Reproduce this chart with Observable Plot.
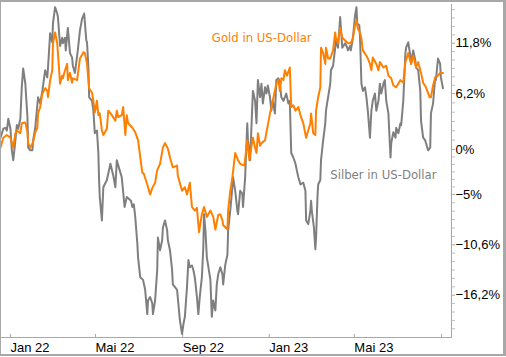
<!DOCTYPE html>
<html><head><meta charset="utf-8">
<script src="https://cdn.jsdelivr.net/npm/d3@7"></script>
<script src="https://cdn.jsdelivr.net/npm/@observablehq/plot@0.6"></script>
<style>
html,body{margin:0;padding:0;background:#fff;}
#wrap{position:relative;width:506px;height:357px;overflow:hidden;}
#border{position:absolute;left:0;top:0;width:506px;height:356px;box-sizing:border-box;border-style:solid;border-color:#a8a8a8;border-width:2px 3px 2px 1px;pointer-events:none;}
</style></head><body>
<div id="wrap"><div id="chart"></div><div id="border"></div></div>
<script>
// Gold in US-Dollar (performance in %)
const goldDates = [
"2021-12-18","2021-12-22","2021-12-27","2022-01-01","2022-01-05","2022-01-08","2022-01-10","2022-01-15","2022-01-17","2022-01-22","2022-01-25","2022-01-26","2022-01-29",
"2022-02-02","2022-02-05","2022-02-08","2022-02-09","2022-02-12","2022-02-15","2022-02-19","2022-02-22","2022-02-23","2022-02-26",
"2022-03-01","2022-03-02","2022-03-05","2022-03-08","2022-03-09","2022-03-12","2022-03-15","2022-03-16","2022-03-19","2022-03-22","2022-03-23","2022-03-26","2022-03-29","2022-03-30",
"2022-04-05","2022-04-09","2022-04-14","2022-04-16","2022-04-19","2022-04-22","2022-04-26","2022-04-28","2022-04-30",
"2022-05-03","2022-05-05","2022-05-07","2022-05-10","2022-05-12","2022-05-17","2022-05-19","2022-05-24","2022-05-29","2022-05-31",
"2022-06-02","2022-06-07","2022-06-09","2022-06-12","2022-06-14","2022-06-16","2022-06-22","2022-06-26","2022-06-30",
"2022-07-06","2022-07-08","2022-07-13","2022-07-17","2022-07-20","2022-07-24","2022-07-27","2022-07-31",
"2022-08-04","2022-08-07","2022-08-11","2022-08-14","2022-08-18","2022-08-24","2022-08-25","2022-08-31",
"2022-09-04","2022-09-07","2022-09-11","2022-09-14","2022-09-18","2022-09-21","2022-09-24","2022-09-28",
"2022-10-01","2022-10-05","2022-10-10","2022-10-14","2022-10-17","2022-10-21","2022-10-24","2022-10-27","2022-10-28",
"2022-11-03","2022-11-04","2022-11-07","2022-11-10","2022-11-14","2022-11-18","2022-11-21","2022-11-27",
"2022-12-01","2022-12-04","2022-12-06","2022-12-09","2022-12-12","2022-12-14","2022-12-16","2022-12-19","2022-12-21","2022-12-26","2022-12-28","2022-12-30",
"2023-01-02","2023-01-04","2023-01-06","2023-01-11","2023-01-14","2023-01-16","2023-01-18","2023-01-21","2023-01-23","2023-01-26","2023-01-30",
"2023-02-01","2023-02-04","2023-02-07","2023-02-11","2023-02-14","2023-02-18","2023-02-22","2023-02-28",
"2023-03-01","2023-03-04","2023-03-07","2023-03-08","2023-03-11","2023-03-14","2023-03-15","2023-03-18","2023-03-21","2023-03-22","2023-03-25","2023-03-28",
"2023-04-01","2023-04-04","2023-04-05","2023-04-08","2023-04-11","2023-04-14","2023-04-18","2023-04-22","2023-04-26","2023-04-29",
"2023-05-02","2023-05-04","2023-05-06","2023-05-09","2023-05-11","2023-05-13","2023-05-18","2023-05-20","2023-05-23","2023-05-25","2023-05-27",
"2023-06-01","2023-06-04","2023-06-06","2023-06-11","2023-06-15","2023-06-18","2023-06-22","2023-06-25","2023-06-29",
"2023-07-05","2023-07-09","2023-07-12","2023-07-16","2023-07-20","2023-07-23","2023-07-27","2023-07-30",
"2023-08-03","2023-08-06","2023-08-10","2023-08-15","2023-08-17","2023-08-20","2023-08-23","2023-08-27","2023-08-30","2023-09-03"
];
const goldValues = [
0.2,1.3,1.6,1.3,0.2,1.8,2.1,1.8,2.9,3.0,1.9,0.7,0.2,
0.8,1.9,2.4,4.0,4.7,6.2,6.8,6.5,5.8,7.7,
8.8,11.8,13.0,11.8,10.7,7.3,8.2,7.9,8.8,9.5,7.7,8.5,7.4,7.9,
7.7,10.1,10.8,10.7,9.5,6.8,6.3,5.4,4.1,
5.4,3.8,4.0,2.1,1.6,2.3,4.3,3.8,3.2,4.3,
3.6,3.8,4.7,1.6,3.8,2.9,2.4,1.9,1.0,
-2.6,-2.7,-3.9,-5.0,-4.3,-3.7,-2.3,-1.6,
0.2,0.7,0.1,-0.9,-2.0,-1.8,-2.9,-4.6,
-4.2,-5.0,-3.7,-6.4,-6.8,-6.5,-9.2,-7.2,
-6.4,-7.5,-6.8,-7.5,-8.9,-7.3,-7.2,-7.9,-8.4,
-8.9,-6.8,-4.6,-3.1,-0.4,-1.2,-1.6,-1.8,
1.0,-1.2,-0.1,1.3,0.2,-0.4,1.8,0.4,0.7,1.0,1.9,2.7,
4.0,4.7,5.4,7.3,7.7,6.5,7.9,7.7,8.8,8.2,9.1,
4.7,4.9,4.3,4.7,3.8,2.9,1.3,2.9,
4.0,1.8,1.6,4.3,5.8,6.9,11.3,10.7,9.5,11.3,10.1,10.1,
11.0,13.0,12.4,11.8,13.5,12.4,12.1,11.8,11.8,12.4,
13.8,14.3,13.4,13.0,12.3,11.0,10.4,10.1,9.5,8.8,10.2,
9.5,8.8,9.7,9.1,9.3,8.2,7.9,7.1,6.9,
7.7,7.4,9.7,10.7,9.5,10.4,9.1,9.7,
8.5,7.4,6.9,5.8,5.8,7.1,8.0,8.2,8.5,8.5
];

// Silber in US-Dollar (performance in %)
const silverDates = [
"2021-12-18","2021-12-22","2021-12-25","2021-12-27","2021-12-29",
"2022-01-01","2022-01-03","2022-01-05","2022-01-08","2022-01-10","2022-01-12","2022-01-15","2022-01-17","2022-01-19","2022-01-22","2022-01-25","2022-01-26","2022-01-29",
"2022-02-01","2022-02-02","2022-02-05","2022-02-09","2022-02-12","2022-02-15","2022-02-19","2022-02-22","2022-02-23","2022-02-26",
"2022-03-01","2022-03-02","2022-03-05","2022-03-08","2022-03-09","2022-03-12","2022-03-15","2022-03-16","2022-03-19","2022-03-20","2022-03-23","2022-03-26","2022-03-29","2022-03-30",
"2022-04-02","2022-04-06","2022-04-09","2022-04-12","2022-04-15","2022-04-18","2022-04-19","2022-04-21","2022-04-22","2022-04-26","2022-04-28","2022-04-30",
"2022-05-03","2022-05-05","2022-05-06","2022-05-07","2022-05-10","2022-05-12","2022-05-17","2022-05-22","2022-05-26","2022-05-29","2022-05-31",
"2022-06-04","2022-06-07","2022-06-11","2022-06-14","2022-06-20","2022-06-22","2022-06-24","2022-06-26","2022-06-29","2022-06-30",
"2022-07-03","2022-07-07","2022-07-10","2022-07-13","2022-07-14","2022-07-17","2022-07-20","2022-07-21","2022-07-24","2022-07-27","2022-07-28","2022-07-31",
"2022-08-03","2022-08-04","2022-08-07","2022-08-10","2022-08-11","2022-08-14","2022-08-17","2022-08-18","2022-08-24","2022-08-28","2022-08-31",
"2022-09-02","2022-09-04","2022-09-07","2022-09-09","2022-09-11","2022-09-14","2022-09-16","2022-09-18","2022-09-21","2022-09-23","2022-09-25","2022-09-28","2022-09-30",
"2022-10-01","2022-10-03","2022-10-05","2022-10-10","2022-10-12","2022-10-14","2022-10-17","2022-10-19","2022-10-21","2022-10-24","2022-10-27","2022-10-28","2022-10-31",
"2022-11-03","2022-11-04","2022-11-07","2022-11-10","2022-11-11","2022-11-14","2022-11-17","2022-11-18","2022-11-21","2022-11-24","2022-11-25","2022-11-28",
"2022-12-01","2022-12-02","2022-12-05","2022-12-08","2022-12-09","2022-12-12","2022-12-14","2022-12-16","2022-12-19","2022-12-21","2022-12-23","2022-12-26","2022-12-28","2022-12-30",
"2023-01-02","2023-01-04","2023-01-06","2023-01-09","2023-01-11","2023-01-14","2023-01-16","2023-01-18","2023-01-21","2023-01-25","2023-01-28","2023-01-30",
"2023-02-01","2023-02-04","2023-02-07","2023-02-08","2023-02-11","2023-02-14","2023-02-18","2023-02-21","2023-02-22","2023-02-25","2023-02-28",
"2023-03-01","2023-03-02","2023-03-05","2023-03-07","2023-03-08","2023-03-10","2023-03-11","2023-03-14","2023-03-15","2023-03-18","2023-03-21","2023-03-22","2023-03-28","2023-03-29",
"2023-04-01","2023-04-04","2023-04-05","2023-04-08","2023-04-11","2023-04-14","2023-04-18","2023-04-21","2023-04-22","2023-04-25","2023-04-26","2023-04-29",
"2023-05-02","2023-05-04","2023-05-05","2023-05-08","2023-05-09","2023-05-11","2023-05-13","2023-05-16","2023-05-18","2023-05-20","2023-05-23","2023-05-25","2023-05-27","2023-05-30",
"2023-06-01","2023-06-04","2023-06-06","2023-06-08","2023-06-11","2023-06-13","2023-06-15","2023-06-18","2023-06-21","2023-06-22","2023-06-25","2023-06-28","2023-06-29",
"2023-07-02","2023-07-05","2023-07-06","2023-07-09","2023-07-12","2023-07-13","2023-07-16","2023-07-19","2023-07-20","2023-07-23","2023-07-26","2023-07-27","2023-07-30",
"2023-08-02","2023-08-03","2023-08-06","2023-08-09","2023-08-10","2023-08-13","2023-08-16","2023-08-17","2023-08-20","2023-08-23","2023-08-24","2023-08-27","2023-08-30","2023-08-31","2023-09-03"
];
const silverValues = [
1.3,2.3,2.4,2.1,3.4,
2.3,-0.1,-1.2,1.0,2.7,2.3,3.4,6.9,9.0,7.3,3.6,0.2,-0.1,
-0.1,1.0,2.4,5.8,5.1,6.5,8.8,8.0,9.1,12.9,
11.9,14.0,15.8,15.1,14.7,11.5,12.4,11.8,12.4,11.0,13.5,10.7,10.2,9.3,
8.5,11.0,13.2,14.5,15.1,12.1,11.9,9.1,5.8,5.4,4.3,1.8,
2.1,-0.4,-3.4,-5.3,-7.9,-4.2,-3.4,-1.6,-2.9,-4.2,-1.2,
-2.3,-3.1,-6.4,-5.3,-5.7,-6.4,-6.1,-7.5,-10.5,-12.0,
-14.2,-14.5,-15.6,-18.3,-16.8,-16.4,-17.1,-18.3,-16.8,-13.4,-9.8,-11.2,
-10.1,-8.7,-7.9,-9.0,-10.1,-11.2,-13.4,-15.0,-15.6,-19.0,-20.5,
-19.4,-18.6,-15.3,-12.3,-13.1,-12.9,-13.4,-14.2,-16.4,-18.3,-16.4,-14.2,-10.9,
-7.2,-9.0,-12.0,-14.5,-18.6,-16.8,-17.9,-15.0,-13.9,-13.1,-13.9,-15.0,-12.8,
-11.7,-9.0,-6.8,-4.2,-3.1,-4.6,-6.8,-7.2,-4.6,-4.9,-6.4,-3.1,
2.9,1.0,-1.2,4.7,6.5,5.4,2.9,7.7,5.8,7.3,5.1,6.9,6.2,7.1,
5.8,4.3,5.4,4.0,7.7,7.9,7.3,5.8,5.4,6.2,5.1,5.4,
-0.4,-0.9,-1.6,-2.0,-3.1,-3.9,-3.7,-4.6,-7.9,-8.3,-6.8,
-5.7,-6.8,-8.7,-11.1,-9.8,-5.3,-3.9,-3.4,-1.2,1.0,2.9,4.3,7.3,8.8,
9.3,11.3,12.1,11.3,14.7,11.3,11.8,11.3,11.0,11.5,11.0,12.4,
14.9,15.8,14.0,13.8,12.4,7.3,6.5,6.9,5.8,4.3,1.3,4.3,5.4,6.2,
4.3,5.4,7.3,6.2,7.3,7.7,5.4,4.0,-0.9,0.7,1.9,1.3,2.4,
1.8,2.9,2.7,5.4,10.7,11.3,11.9,10.4,9.5,11.0,9.9,9.1,8.8,
6.5,3.2,1.3,1.0,0.7,-0.1,0.2,4.0,5.1,8.0,7.7,10.1,9.5,8.0,6.8
];

const xTickDates = ["2022-01-01","2022-05-01","2022-09-01","2023-01-01","2023-05-01","2023-09-01"];
const xTickLabels = ["Jan 22","Mai 22","Sep 22","Jan 23","Mai 23",""];
const yTicks = [11.8, 6.2, 0, -5, -10.6, -16.2];
const yMinorTicks = [15.53,14.6,13.67,12.73,10.87,9.93,9.0,8.07,7.13,5.17,4.13,3.1,2.07,1.03,-0.83,-1.67,-2.5,-3.33,-4.17,-5.93,-6.87,-7.8,-8.73,-9.67,-11.53,-12.47,-13.4,-14.33,-15.27,-17.13,-18.07,-19.0,-19.93];
const seriesNames = ["Gold in US-Dollar", "Silber in US-Dollar"];
const seriesColors = ["#ff8000", "#7f7f7f"];
const labelDates = ["2022-10-12", "2023-03-28"];
const labelValues = [11.9, -3.3];
const xDomain = ["2021-12-18", "2023-09-15"];
const yDomain = [-20.9, 16.1];

const parse = d3.utcParse("%Y-%m-%d");
const gold = goldDates.map((d, i) => ({date: parse(d), value: goldValues[i]}));
const silver = silverDates.map((d, i) => ({date: parse(d), value: silverValues[i]}));
const tickDates = xTickDates.map(parse);
const labelMap = new Map(xTickDates.map((d, i) => [+parse(d), xTickLabels[i]]));
const fmtY = d => (d3.format(".1~f")(d)).replace(".", ",") + "%";
const annFont = "'DejaVu Sans Condensed', 'DejaVu Sans', sans-serif";

const chart = Plot.plot({
  width: 506,
  height: 357,
  marginLeft: 0,
  marginRight: 55,
  marginTop: 4,
  marginBottom: 20,
  style: {fontFamily: "'Liberation Sans', Arial, sans-serif", fontSize: "13px", background: "#fff", color: "#000"},
  x: {type: "utc", domain: xDomain.map(parse)},
  y: {domain: yDomain},
  marks: [
    Plot.frame({anchor: "bottom", stroke: "#a8a8a8"}),
    Plot.frame({anchor: "right", stroke: "#a8a8a8"}),
    Plot.axisY(yMinorTicks, {anchor: "right", tickSize: 3, stroke: "#c0c0c0", fill: "none", tickFormat: () => "", label: null}),
    Plot.axisY(yTicks, {anchor: "right", tickSize: 3, tickPadding: 1, stroke: "#a8a8a8", fill: "#000", tickFormat: fmtY, label: null, fontSize: 13}),
    Plot.axisX(tickDates, {anchor: "bottom", tickSize: 3, dy: -3, stroke: "#a8a8a8", fill: "none", tickFormat: () => "", label: null}),
    Plot.axisX(tickDates.slice(0, 5), {anchor: "bottom", tickSize: 0, tickPadding: 5, textAnchor: "start", fill: "#000", tickFormat: d => labelMap.get(+d), label: null, fontSize: 13}),
    Plot.lineY(silver, {x: "date", y: "value", stroke: seriesColors[1], strokeWidth: 2}),
    Plot.lineY(gold, {x: "date", y: "value", stroke: seriesColors[0], strokeWidth: 2}),
    Plot.text([0], {x: () => parse(labelDates[0]), y: () => labelValues[0], text: () => seriesNames[0], textAnchor: "start", lineAnchor: "bottom", fill: seriesColors[0], fontFamily: annFont, fontSize: 13}),
    Plot.text([1], {x: () => parse(labelDates[1]), y: () => labelValues[1], text: () => seriesNames[1], textAnchor: "start", lineAnchor: "bottom", fill: seriesColors[1], fontFamily: annFont, fontSize: 13})
  ]
});
document.getElementById("chart").appendChild(chart);
</script>
</body></html>
